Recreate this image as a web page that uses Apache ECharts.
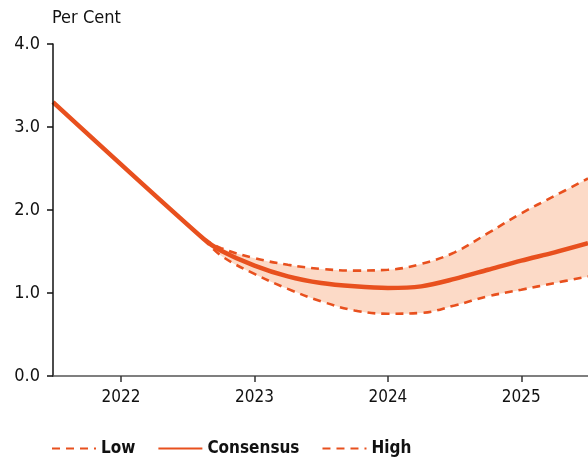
<!DOCTYPE html>
<html>
<head>
<meta charset="utf-8">
<script src="https://cdn.jsdelivr.net/npm/echarts@6/dist/echarts.min.js"></script>
<style>
  html, body { margin: 0; padding: 0; background: #fff; }
  #chart { width: 588px; height: 466px; }
</style>
</head>
<body>
<div id="chart"></div>
<script>
// x positions in years (decimal)
const historyX = [2021.49, 2022.62]
const historyY = [3.3, 1.65]

const forecastX = [2022.62, 2022.75, 2023.0, 2023.25, 2023.5, 2023.75, 2024.0, 2024.25, 2024.5, 2024.75, 2025.0, 2025.25, 2025.5]
const consensus = [1.65, 1.51, 1.33, 1.20, 1.12, 1.08, 1.06, 1.08, 1.17, 1.28, 1.39, 1.49, 1.60]
const high = [1.65, 1.54, 1.42, 1.34, 1.29, 1.27, 1.28, 1.35, 1.49, 1.72, 1.96, 2.17, 2.38]
const low = [1.65, 1.45, 1.23, 1.05, 0.90, 0.79, 0.75, 0.76, 0.85, 0.96, 1.04, 1.12, 1.20]

const yearTicks = [2022, 2023, 2024, 2025]

const lineColor = '#e8501e'
const bandColor = '#fcdac7'
const font = "'Liberation Sans Narrow', 'DejaVu Sans Condensed', sans-serif"
const dash = [8, 6]

const pairs = (xs, ys) => xs.map((x, i) => [x, ys[i]])

const chart = echarts.init(document.getElementById('chart'))

const option = {
  animation: false,
  title: {
    text: 'Per Cent',
    left: 47,
    top: 4,
    textStyle: { fontFamily: font, fontSize: 18, fontWeight: 'normal', color: '#111' }
  },
  grid: { left: 53, right: 0, top: 44, bottom: 90 },
  legend: {
    data: ['Low', 'Consensus', 'High'],
    left: 46,
    bottom: 4,
    itemWidth: 44,
    itemHeight: 14,
    itemGap: 22,
    itemStyle: { opacity: 0 },
    textStyle: { fontFamily: font, fontSize: 17, fontWeight: 'bold', color: '#111' }
  },
  xAxis: {
    type: 'value',
    min: 2021.49,
    max: 2025.5,
    z: 10,
    splitLine: { show: false },
    axisLine: { lineStyle: { color: '#555', width: 1.5 } },
    axisTick: { customValues: yearTicks, length: 6, lineStyle: { color: '#333', width: 1.5 } },
    axisLabel: {
      customValues: yearTicks,
      formatter: v => String(Math.round(v)),
      fontFamily: font, fontSize: 17, color: '#111', margin: 13
    }
  },
  yAxis: {
    type: 'value',
    min: 0,
    max: 4,
    interval: 1,
    z: 10,
    splitLine: { show: false },
    axisLine: { show: true, lineStyle: { color: '#111', width: 1.5 } },
    axisTick: { show: true, length: 6, lineStyle: { color: '#111', width: 1.5 } },
    axisLabel: {
      formatter: v => v.toFixed(1),
      fontFamily: font, fontSize: 18, color: '#111', margin: 13
    }
  },
  series: [
    // shaded band: fill under High, then white under Low
    {
      name: 'bandTop',
      type: 'line',
      data: pairs(forecastX, high),
      smooth: 0.4,
      symbol: 'none',
      lineStyle: { opacity: 0 },
      areaStyle: { color: bandColor, opacity: 1 },
      silent: true,
      z: 1
    },
    {
      name: 'bandBottom',
      type: 'line',
      // starts a touch earlier so the white cover hides the band's left edge
      data: [[2022.59, 1.66]].concat(pairs(forecastX, low)),
      smooth: 0.4,
      symbol: 'none',
      lineStyle: { opacity: 0 },
      areaStyle: { color: '#fff', opacity: 1 },
      silent: true,
      z: 1
    },
    {
      name: 'Low',
      type: 'line',
      data: pairs(forecastX, low),
      smooth: 0.4,
      symbol: 'none',
      lineStyle: { color: lineColor, width: 2.6, type: dash },
      itemStyle: { color: lineColor },
      z: 3
    },
    {
      name: 'High',
      type: 'line',
      data: pairs(forecastX, high),
      smooth: 0.4,
      symbol: 'none',
      lineStyle: { color: lineColor, width: 2.6, type: dash },
      itemStyle: { color: lineColor },
      z: 3
    },
    {
      name: 'Consensus',
      type: 'line',
      data: pairs(historyX, historyY).concat(pairs(forecastX.slice(1), consensus.slice(1))),
      smooth: 0.3,
      symbol: 'none',
      lineStyle: { color: lineColor, width: 4.5 },
      itemStyle: { color: lineColor },
      z: 4
    }
  ]
}

chart.setOption(option)
</script>
</body>
</html>
